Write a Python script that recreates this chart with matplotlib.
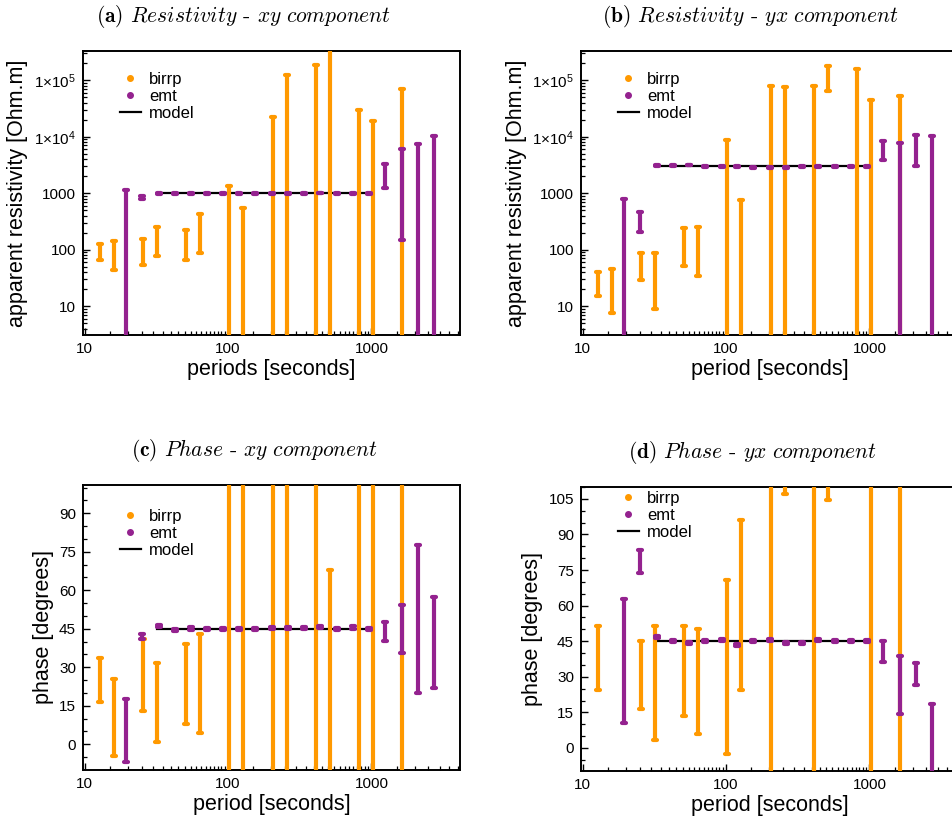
import numpy as np
import matplotlib
matplotlib.use("Agg")
import matplotlib.pyplot as plt
from matplotlib.lines import Line2D
from matplotlib.markers import MarkerStyle
from matplotlib.ticker import FixedLocator, NullFormatter, LogLocator

plt.rcParams['font.family'] = ['Liberation Sans', 'DejaVu Sans']
plt.rcParams['mathtext.fontset'] = 'custom'
plt.rcParams['mathtext.rm'] = 'Liberation Sans'
plt.rcParams['mathtext.it'] = 'Liberation Sans:italic'

# ---------------- data ----------------
birrp_periods = [12.8, 16, 25.6, 32, 51.2, 64, 102.4, 128, 204.8, 256, 409.6, 512, 819.2, 1024, 1638.4]
emt_periods = [19.5, 25.2, 32.8, 42.8, 55, 71, 93, 120, 155, 203, 264, 341, 439, 573, 741, 957,
               1245, 1627, 2104, 2718]
model_periods = [32, 1024]

model_rho_xy = [1000, 1000]
model_rho_yx = [3000, 3000]
model_phase = [45, 45]

# apparent resistivity, xy
rho_xy_birrp = [90, 78, 92, 140, 120, 190, 680, 270, 11000, 63000, 92000, 200000, 15000, 9500, 35000]
rho_xy_birrp_lo = [65, 43, 54, 77, 67, 87, 0.01, 0.01, 0.01, 0.01, 0.01, 0.01, 0.01, 0.01, 0.01]
rho_xy_birrp_hi = [125, 141, 157, 254, 221, 427, 1358, 537, 21980, 126000, 185000, 1.0e6, 29300, 18700, 70200]

rho_xy_emt = [560, 843, 1000, 1000, 980, 1000, 1000, 1000, 1000, 1000, 1000, 1000, 1010, 975, 1000, 1000,
              2000, 3100, 3700, 5100]
rho_xy_emt_lo = [0.01, 805, 985, 985, 950, 985, 985, 985, 985, 985, 985, 985, 995, 950, 985, 985,
                 1236, 147, 0.01, 0.01]
rho_xy_emt_hi = [1122, 880, 1015, 1015, 1010, 1015, 1015, 1015, 1015, 1015, 1015, 1015, 1025, 1000, 1015, 1015,
                 3260, 6100, 7380, 10240]

# apparent resistivity, yx
rho_yx_birrp = [28, 26, 58, 49, 150, 144, 4400, 370, 40000, 38000, 40000, 121000, 78000, 22000, 27000]
rho_yx_birrp_lo = [14.9, 7.5, 29.4, 9, 51, 34, 0.01, 0.01, 0.01, 0.01, 0.01, 65500, 0.01, 0.01, 0.01]
rho_yx_birrp_hi = [41, 45, 87.5, 89, 247, 254, 8810, 747, 80400, 76000, 80400, 177000, 155000, 44000, 53300]

rho_yx_emt = [390, 338, 3080, 3080, 3160, 2950, 3000, 3000, 2880, 2880, 2880, 2950, 2950, 3000, 3000, 2950,
              6200, 3950, 6850, 5200]
rho_yx_emt_lo = [0.01, 207, 3020, 3020, 3100, 2890, 2940, 2940, 2820, 2820, 2820, 2890, 2890, 2940, 2940, 2890,
                 3840, 0.01, 3040, 0.01]
rho_yx_emt_hi = [787, 469, 3140, 3140, 3220, 3010, 3060, 3060, 2940, 2940, 2940, 3010, 3010, 3060, 3060, 3010,
                 8570, 7900, 10670, 10370]

# phase, xy
phi_xy_birrp = [25.2, 10.5, 26.9, 16.3, 23.4, 23.6, 45, 45, 45, 45, 45, 14, 45, 45, 45]
phi_xy_birrp_lo = [16.5, -4.5, 12.8, 1.0, 7.9, 4.3, -60, -60, -60, -60, -60, -40, -60, -60, -60]
phi_xy_birrp_hi = [33.8, 25.5, 40.9, 31.6, 38.9, 42.9, 150, 150, 150, 150, 150, 67.7, 150, 150, 150]

phi_xy_emt = [5.4, 42.0, 46.2, 44.6, 45.1, 45, 45, 45, 45, 45.4, 45.4, 45.4, 45.8, 44.9, 45.5, 45,
              44.0, 45.0, 48.8, 39.6]
phi_xy_emt_lo = [-6.8, 41.2, 45.8, 44.2, 44.7, 44.6, 44.6, 44.6, 44.6, 45.0, 45.0, 45.0, 45.4, 44.5, 45.1, 44.6,
                 40.2, 35.6, 20.0, 21.8]
phi_xy_emt_hi = [17.5, 42.8, 46.6, 45.0, 45.5, 45.4, 45.4, 45.4, 45.4, 45.8, 45.8, 45.8, 46.2, 45.3, 45.9, 45.4,
                 47.7, 54.3, 77.5, 57.4]

# phase, yx
nan = np.nan
phi_yx_birrp = [38.1, nan, 30.9, 27.4, 32.4, 28.1, 34, 60.2, 45, 128, 45, 127, nan, 45, 45]
phi_yx_birrp_lo = [24.6, nan, 16.6, 3.2, 13.3, 5.9, -2.5, 24.3, -60, 107, -60, 104.5, nan, -60, -60]
phi_yx_birrp_hi = [51.6, nan, 45.2, 51.5, 51.5, 50.2, 70.6, 96.1, 150, 150, 150, 150, nan, 150, 150]

phi_yx_emt = [36.6, 78.5, 46.6, 44.9, 44.1, 45.2, 45.5, 43.5, 44.9, 45.5, 44.1, 44.3, 45.6, 45.2, 45.2, 45.2,
              40.7, 26.5, 31.2, -25]
phi_yx_emt_lo = [10.4, 73.7, 46.2, 44.5, 43.7, 44.8, 45.1, 43.1, 44.5, 45.1, 43.7, 43.9, 45.2, 44.8, 44.8, 44.8,
                 36.2, 14.3, 26.5, -70]
phi_yx_emt_hi = [62.9, 83.3, 47.0, 45.3, 44.5, 45.6, 45.9, 43.9, 45.3, 45.9, 44.5, 44.7, 46.0, 45.6, 45.6, 45.6,
                 45.2, 38.6, 35.8, 18.7]

# ---------------- styling ----------------
ORANGE = '#ff9900'
PURPLE = '#94228f'
TICK_SIZE = 11
LABEL_SIZE = 15.5
LEGEND_SIZE = 12

x_major = [10, 100, 1000]
x_minor = list(range(15, 100, 5)) + list(range(150, 1000, 50)) + list(range(1500, 4001, 500))


def draw_errorbars(ax, x, y, lo, hi, color):
    y = np.asarray(y, float)
    lo = np.asarray(lo, float)
    hi = np.asarray(hi, float)
    _, caps, _ = ax.errorbar(x, y, yerr=[y - lo, hi - y], fmt='none', ecolor=color,
                             elinewidth=3.0, capsize=1.7, capthick=3.0, zorder=3)
    for cap in caps:
        cap.set_marker(MarkerStyle('_', capstyle='round'))


def style_axes(ax, xlabel, ylabel):
    ax.set_xscale('log')
    ax.set_xlim(9.75, 4150)
    ax.xaxis.set_major_locator(FixedLocator(x_major))
    ax.xaxis.set_minor_locator(FixedLocator(x_minor))
    ax.xaxis.set_minor_formatter(NullFormatter())
    ax.set_xticklabels(['10', '100', '1000'])
    ax.tick_params(which='both', direction='in', top=False, right=False, labelsize=TICK_SIZE)
    ax.tick_params(which='major', length=5, width=1.0, pad=5)
    ax.tick_params(which='minor', length=3, width=0.9)
    for sp in ax.spines.values():
        sp.set_linewidth(1.4)
    ax.set_xlabel(xlabel, fontsize=LABEL_SIZE, labelpad=2)
    ax.set_ylabel(ylabel, fontsize=LABEL_SIZE, labelpad=4)


def add_legend(ax, ytop):
    handles = [
        Line2D([], [], ls='none', marker='o', ms=4, color=ORANGE),
        Line2D([], [], ls='none', marker='o', ms=4, color=PURPLE),
        Line2D([], [], color='black', lw=1.6),
    ]
    ax.legend(handles, ['birrp', 'emt', 'model'], loc='upper left', bbox_to_anchor=(0.098, ytop),
              frameon=False, fontsize=LEGEND_SIZE, handlelength=1.25, handletextpad=0.5,
              labelspacing=0.12, borderpad=0, borderaxespad=0)


def set_title(ax, letter, quantity, comp, xcenter):
    ax.set_title(r'$\mathbf{(' + letter + r')}$ $\mathit{' + quantity + r'}$ - $\mathit{' + comp +
                 r'\ component}$', fontsize=15.5, fontfamily='cmr10', math_fontfamily='cm',
                 pad=21, x=xcenter)


fig = plt.figure(figsize=(9.53, 8.31), dpi=100)
ax_a = fig.add_axes([0.0871, 0.5969, 0.3956, 0.3418])
ax_b = fig.add_axes([0.6097, 0.5969, 0.3956, 0.3418])
ax_c = fig.add_axes([0.0871, 0.0734, 0.3956, 0.3430])
ax_d = fig.add_axes([0.6097, 0.0722, 0.3956, 0.3418])

rho_ticks = [10, 100, 1000, 1e4, 1e5]
rho_labels = ['10', '100', '1000', r'1$\times$10$^4$', r'1$\times$10$^5$']

panels = [
    (ax_a, 'a', 'Resistivity', 'xy', 'periods [seconds]', model_rho_xy, 0.425,
     (rho_xy_birrp, rho_xy_birrp_lo, rho_xy_birrp_hi), (rho_xy_emt, rho_xy_emt_lo, rho_xy_emt_hi)),
    (ax_b, 'b', 'Resistivity', 'yx', 'period [seconds]', model_rho_yx, 0.45,
     (rho_yx_birrp, rho_yx_birrp_lo, rho_yx_birrp_hi), (rho_yx_emt, rho_yx_emt_lo, rho_yx_emt_hi)),
    (ax_c, 'c', 'Phase', 'xy', 'period [seconds]', model_phase, 0.455,
     (phi_xy_birrp, phi_xy_birrp_lo, phi_xy_birrp_hi), (phi_xy_emt, phi_xy_emt_lo, phi_xy_emt_hi)),
    (ax_d, 'd', 'Phase', 'yx', 'period [seconds]', model_phase, 0.455,
     (phi_yx_birrp, phi_yx_birrp_lo, phi_yx_birrp_hi), (phi_yx_emt, phi_yx_emt_lo, phi_yx_emt_hi)),
]

for ax, letter, quantity, comp, xlabel, model, tx, birrp, emt in panels:
    if quantity == 'Resistivity':
        ax.set_yscale('log', nonpositive='clip')
    ax.plot(model_periods, model, color='black', lw=1.6, zorder=2)
    draw_errorbars(ax, birrp_periods, *birrp, ORANGE)
    draw_errorbars(ax, emt_periods, *emt, PURPLE)
    ylabel = 'apparent resistivity [Ohm.m]' if quantity == 'Resistivity' else 'phase [degrees]'
    style_axes(ax, xlabel, ylabel)
    set_title(ax, letter, quantity, comp, tx)

for ax in (ax_a, ax_b):
    ax.set_ylim(3.1, 3.3e5)
    ax.yaxis.set_major_locator(FixedLocator(rho_ticks))
    ax.set_yticklabels(rho_labels)
    ax.yaxis.set_minor_locator(LogLocator(base=10, subs=np.arange(2, 10), numticks=20))
    ax.yaxis.set_minor_formatter(NullFormatter())
    ax.tick_params(axis='y', which='both', labelsize=TICK_SIZE)

ax_c.set_ylim(-10, 101)
ax_c.yaxis.set_major_locator(FixedLocator(np.arange(0, 91, 15)))
ax_c.yaxis.set_minor_locator(FixedLocator(np.arange(-5, 101, 5)))
ax_d.set_ylim(-9.7, 110)
ax_d.yaxis.set_major_locator(FixedLocator(np.arange(0, 106, 15)))
ax_d.yaxis.set_minor_locator(FixedLocator(np.arange(-5, 111, 5)))

add_legend(ax_a, 0.925)
add_legend(ax_b, 0.925)
add_legend(ax_c, 0.915)
add_legend(ax_d, 0.985)

fig.savefig('out.png', dpi=100)
